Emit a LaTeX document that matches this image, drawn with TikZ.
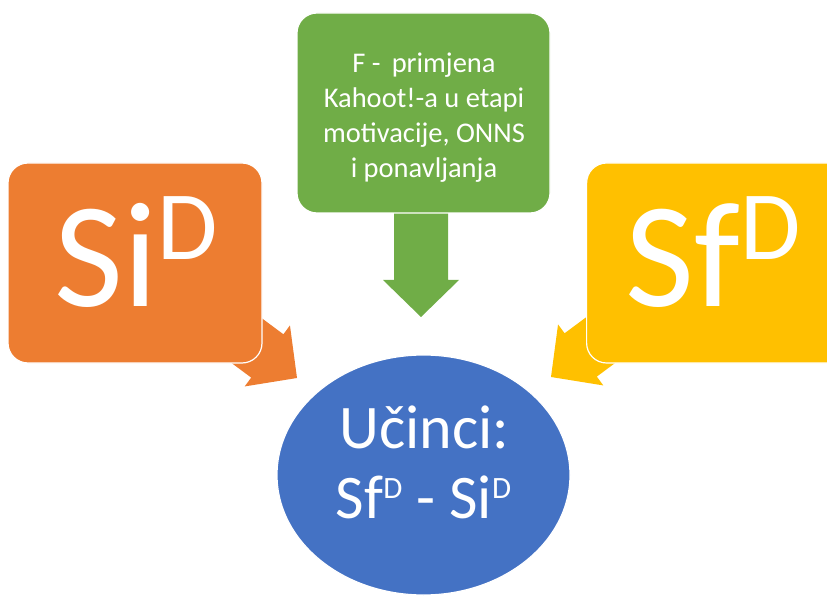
\documentclass[tikz,border=0pt]{standalone}
\usepackage{fontspec}
\setmainfont{Carlito}
\usetikzlibrary{shapes.geometric}
\definecolor{cOrange}{HTML}{ED7D31}
\definecolor{cGreen}{HTML}{70AD47}
\definecolor{cYellow}{HTML}{FFC000}
\definecolor{cBlue}{HTML}{4472C4}
\newcommand{\supD}[2]{\raisebox{#2pt}{\fontsize{#1}{#1}\selectfont D}}
\begin{document}
\begin{tikzpicture}[x=1pt,y=1pt,
  boxshape/.style={draw=white, line width=1.2pt, rounded corners=20pt, inner sep=0pt},
  bigtxt/.style={text=white, anchor=base, inner sep=0pt, font=\fontsize{150}{150}\selectfont},
  midtxt/.style={text=white, anchor=base, inner sep=0pt, font=\fontsize{62}{62}\selectfont}]
\useasboundingbox (0,0) rectangle (827,595);
\clip (0,0) rectangle (827,595);
% block arrows (drawn first, their tails hidden under the boxes)
\coordinate (tipO) at (297,217);
\coordinate (tipG) at (421,278);
\coordinate (tipY) at (551,218);
\begin{scope}[shift={(tipO)}, rotate=-36.6]
  \fill[cOrange] (0,0) -- (-37,38) -- (-37,27) -- (-150,27) -- (-150,-27) -- (-37,-27) -- (-37,-38) -- cycle;
\end{scope}
\begin{scope}[shift={(tipY)}, rotate=216.6]
  \fill[cYellow] (0,0) -- (-37,38) -- (-37,27) -- (-150,27) -- (-150,-27) -- (-37,-27) -- (-37,-38) -- cycle;
\end{scope}
\begin{scope}[shift={(tipG)}, rotate=-90]
  \fill[cGreen] (0,0) -- (-37,38) -- (-37,27) -- (-115,27) -- (-115,-27) -- (-37,-27) -- (-37,-38) -- cycle;
\end{scope}
% boxes
\node[boxshape, fill=cOrange, minimum width=254pt, minimum height=200pt] (si) at (135,332) {};
\node[boxshape, fill=cYellow, minimum width=260pt, minimum height=200pt, anchor=west] (sf) at (586,332) {};
\node[boxshape, fill=cGreen, minimum width=253pt, minimum height=200pt] (f) at (423.5,482) {};
\node[text=white, align=center, inner sep=0pt, font=\fontsize{28.5}{35}\selectfont] (ftxt) at (424,477) {F - \,primjena\\Kahoot!-a u etapi\\motivacije, ONNS\\i ponavljanja};
% effect ellipse
\node[ellipse, fill=cBlue, draw=white, line width=1.2pt, minimum width=293pt, minimum height=240pt, inner sep=0pt] (u) at (423.5,120) {};
% texts
\node[bigtxt] (sitxt) at (136,288) {Si\supD{98}{47}};
\node[bigtxt] (sftxt) at (713,288) {Sf\supD{98}{47}};
\node[midtxt] (u1) at (424.5,147) {Učinci:};
\node[midtxt] (u2) at (423.5,77) {Sf\supD{31}{20} - Si\supD{31}{20}};
\end{tikzpicture}
\end{document}
